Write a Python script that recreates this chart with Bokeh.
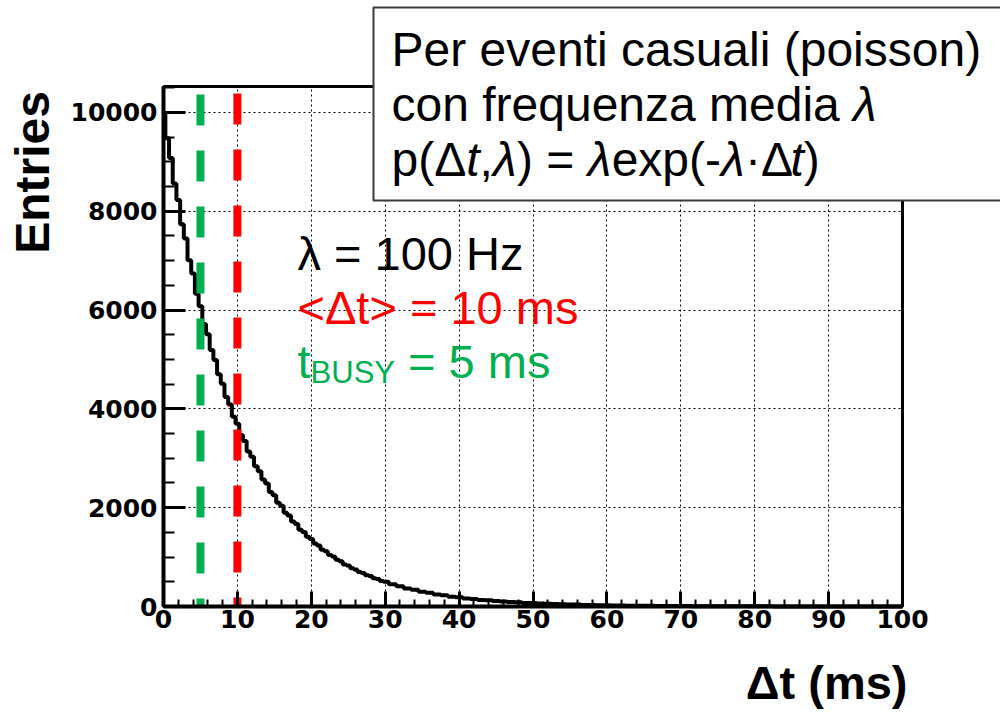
import math
from bokeh.plotting import figure
from bokeh.models import Range1d, FixedTicker, Label, BoxAnnotation, Grid
from bokeh.embed import file_html
from bokeh.resources import INLINE

# ---------------- data ----------------
t_ms = [0, 0.5, 1, 1.5, 2, 2.5, 3, 3.5, 4, 4.5, 5, 5.5, 6, 6.5, 7, 7.5, 8, 8.5, 9, 9.5,
        10, 10.5, 11, 11.5, 12, 12.5, 13, 13.5, 14, 14.5, 15, 15.5, 16, 16.5, 17, 17.5,
        18, 18.5, 19, 19.5, 20, 20.5, 21, 21.5, 22, 22.5, 23, 23.5, 24, 24.5, 25, 25.5,
        26, 26.5, 27, 27.5, 28, 28.5, 29, 29.5, 30,
        31, 32, 33, 34, 35, 36, 37, 38, 39, 40, 41, 42, 43, 44, 45, 46, 47, 48, 49, 50,
        51, 52, 53, 54, 55, 56, 57, 58, 59, 60, 61, 62, 63, 64, 65, 66, 67, 68, 69, 70,
        71, 72, 73, 74, 75, 76, 77, 78, 79, 80, 81, 82, 83, 84, 85, 86, 87, 88, 89, 90,
        91, 92, 93, 94, 95, 96, 97, 98, 99, 100]
entries = [9960, 9480, 9080, 8560, 8230, 7740, 7450, 7010, 6740, 6330, 6080, 5720, 5510, 5190,
           4990, 4700, 4510, 4240, 4090, 3840, 3700, 3470, 3350, 3140, 3030, 2840, 2740, 2570,
           2490, 2320, 2250, 2100, 2040, 1900, 1840, 1720, 1670, 1555, 1510, 1410, 1365, 1275,
           1235, 1150, 1120, 1040, 1012, 945, 915, 852, 830, 772, 750, 700, 680, 632, 615, 572,
           556, 517, 503,
           452, 411, 366, 338, 299, 276, 244, 227, 199, 186, 163, 152, 134, 125, 109, 103, 89,
           84, 72, 69, 60, 56, 49, 46, 40, 38, 32, 31, 26, 25, 21, 21, 17, 17, 14, 14, 11, 12,
           9, 9, 8, 7, 6, 6, 5, 5, 4, 4, 3, 3, 3, 3, 2, 2, 2, 2, 1, 1, 1, 1,
           1, 1, 1, 0, 0, 0, 0, 0, 0, 0]

x_ticks = [0, 10, 20, 30, 40, 50, 60, 70, 80, 90, 100]
x_tick_labels = ["0", "10", "20", "30", "40", "50", "60", "70", "80", "90", "100"]
x_minor = list(range(0, 101, 2))
y_ticks = [0, 2000, 4000, 6000, 8000, 10000]
y_tick_labels = ["0", "2000", "4000", "6000", "8000", "10000"]
y_minor = list(range(0, 10501, 500))

mean_dt = 10   # ms, <Δt>
t_busy = 5     # ms

X_MIN, X_MAX = 0, 100        # histogram axis extent
Y_MIN, Y_MAX = 0, 10526      # vertical axis extent

# ---------------- layout (page pixels) ----------------
W, H = 1000, 710
FL, FR, FT, FB = 163, 902, 86, 606   # where the histogram box sits on the page
PXX = (FR - FL) / (X_MAX - X_MIN)
PXY = (FB - FT) / (Y_MAX - Y_MIN)
BASE_FIX = 0.34   # em: correction between wanted baseline and rendered one


def dx(sx):
    return X_MIN + (sx - FL) / PXX


def dy(sy):
    return Y_MIN + (FB - sy) / PXY


RED = "#ff0000"
GREEN = "#00b050"

p = figure(width=W, height=H, title=None,
           x_range=Range1d(dx(0), dx(W)), y_range=Range1d(dy(H), dy(0)),
           output_backend="svg", toolbar_location=None,
           min_border_left=0, min_border_right=0, min_border_top=0, min_border_bottom=0)
p.background_fill_color = "white"
p.border_fill_color = "white"
p.outline_line_color = None

p.xaxis.ticker = FixedTicker(ticks=x_ticks, minor_ticks=x_minor)
p.yaxis.ticker = FixedTicker(ticks=y_ticks, minor_ticks=y_minor)
p.xaxis.major_label_overrides = {t: l for t, l in zip(x_ticks, x_tick_labels)}
p.yaxis.major_label_overrides = {t: l for t, l in zip(y_ticks, y_tick_labels)}
p.xaxis.fixed_location = Y_MIN
p.yaxis.fixed_location = X_MIN
p.xaxis.bounds = (X_MIN, X_MAX)
p.yaxis.bounds = (Y_MIN, Y_MAX)

for ax in p.axis:
    ax.axis_line_color = "black"
    ax.axis_line_width = 4
    ax.major_tick_line_color = "black"
    ax.major_tick_line_width = 3
    ax.minor_tick_line_color = "black"
    ax.minor_tick_line_width = 2
    ax.major_tick_out = 0
    ax.minor_tick_out = 0
    ax.major_label_text_font = "DejaVu Sans"
    ax.major_label_text_font_style = "bold"
    ax.major_label_text_font_size = "25px"
    ax.major_label_text_color = "black"

p.xaxis.major_tick_in = 15
p.xaxis.minor_tick_in = 7
p.xaxis.major_label_standoff = 3
p.yaxis.major_tick_in = 22
p.yaxis.minor_tick_in = 11
p.yaxis.major_label_standoff = 6

# dotted grid, limited to the histogram box
has_cross = "cross_bounds" in Grid.properties()
for g, tk, b, cb in ((p.xgrid, x_ticks, (X_MIN, X_MAX), (Y_MIN, Y_MAX)),
                     (p.ygrid, y_ticks, (Y_MIN, Y_MAX), (X_MIN, X_MAX))):
    g.ticker = FixedTicker(ticks=tk)
    g.grid_line_color = "black"
    g.grid_line_width = 1
    g.grid_line_dash = "2 3"
    g.bounds = b
    if has_cross:
        g.cross_bounds = cb
    else:
        g.visible = False
if not has_cross:
    p.segment(x0=x_ticks, y0=[Y_MIN] * len(x_ticks), x1=x_ticks, y1=[Y_MAX] * len(x_ticks),
              line_color="black", line_width=1, line_dash="2 3")
    p.segment(x0=[X_MIN] * len(y_ticks), y0=y_ticks, x1=[X_MAX] * len(y_ticks), y1=y_ticks,
              line_color="black", line_width=1, line_dash="2 3")

# frame of the histogram box
p.quad(left=[X_MIN], right=[X_MAX], bottom=[Y_MIN], top=[Y_MAX], fill_color=None,
       line_color="black", line_width=3)

# histogram
p.step(t_ms, entries, mode="center", line_color="black", line_width=4)

# vertical dashed markers
p.line([t_busy, t_busy], [dy(FT + 8), Y_MIN], line_color=GREEN, line_width=8,
       line_dash="31 25", line_cap="butt")
p.line([mean_dt, mean_dt], [dy(FT + 7), Y_MIN], line_color=RED, line_width=8,
       line_dash="31 25", line_cap="butt")

# ---------------- text ----------------
ARIAL = {' ': 278, '(': 333, ')': 333, 'Δ': 668, ',': 278, 'λ': 500, '=': 584, '-': 333,
         '·': 278, '<': 584, '>': 584, 'B': 667, 'U': 722, 'S': 667, 'Y': 667, 'H': 722,
         'P': 667, '0': 556, '1': 556, '5': 556,
         'a': 556, 'b': 556, 'c': 500, 'd': 556, 'e': 556, 'f': 278, 'g': 556, 'h': 556,
         'i': 222, 'j': 222, 'k': 500, 'l': 222, 'm': 833, 'n': 556, 'o': 556, 'p': 556,
         'q': 556, 'r': 333, 's': 500, 't': 278, 'u': 556, 'v': 500, 'w': 722, 'x': 500,
         'y': 500, 'z': 500}


def tw(s, size):
    return sum(ARIAL.get(c, 556) for c in s) * size / 1000.0


def add_text(txt, sx, sy, size, color="black", style="normal", font="Liberation Sans",
             align="left", angle=0.0):
    # sx, sy: wanted baseline anchor on the page
    fix = BASE_FIX * size
    if angle:
        sx -= fix
    else:
        sy -= fix
    p.add_layout(Label(x=dx(sx), y=dy(sy), text=txt, text_font=font,
                       text_font_size=f"{size}px", text_color=color,
                       text_font_style=style, text_align=align,
                       text_baseline="alphabetic", angle=angle))


def add_pieces(pieces, sx, sy, size, color="black"):
    x = sx
    for txt, style in pieces:
        stripped = txt.lstrip(" ")
        lead = len(txt) - len(stripped)
        x += tw(" " * lead, size)
        if stripped.strip():
            add_text(stripped.rstrip(" "), x, sy, size, color=color, style=style)
        x += tw(stripped, size)
    return x


# info box
p.add_layout(BoxAnnotation(left=dx(373), right=dx(1001), top=dy(7), bottom=dy(200),
                           fill_color="white", fill_alpha=1.0,
                           line_color="#3a3a3a", line_width=2, line_alpha=1.0))

LS = 48
add_text("Per eventi casuali (poisson)", 391, 65, LS)
add_pieces([("con frequenza media ", "normal"), ("λ", "italic")], 391, 120, LS)
add_pieces([("p(Δ", "normal"), ("t", "italic"), (",", "normal"), ("λ", "italic"),
            (") = ", "normal"), ("λ", "italic"), ("exp(-", "normal"), ("λ", "italic"),
            ("·Δ", "normal"), ("t", "italic"), (")", "normal")], 391, 175, LS)

IS = 47
add_text("λ = 100 Hz", 297, 269, IS)
add_text("<Δt> = 10 ms", 297, 323, IS, color=RED)
x_after_t = 297 + tw("t", IS)
add_text("t", 297, 377, IS, color=GREEN)
add_text("BUSY", x_after_t, 383, 31, color=GREEN)
add_text("= 5 ms", x_after_t + tw("BUSY", 31) + tw(" ", IS), 377, IS, color=GREEN)

# axis titles
add_text("Entries", 48, 172, 48, style="bold", align="center", angle=math.pi / 2)
add_text("Δt (ms)", 907, 698, 47, style="bold", align="right")

open("out.html", "w").write(file_html(p, INLINE))
